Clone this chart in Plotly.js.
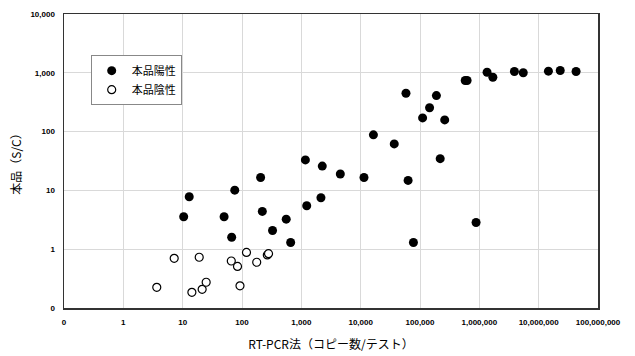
<!DOCTYPE html>
<html>
<head>
<meta charset="utf-8">
<script src="https://cdn.plot.ly/plotly-3.0.1.min.js"></script>
<style>html,body{margin:0;padding:0;background:#fff;}#chart{width:635px;height:356px;}</style>
</head>
<body>
<div id="chart"></div>
<script>
// 本品陽性 (positive)
const posX = [10.4, 12.9, 49.9, 67, 75.5, 206, 220, 327, 556, 661, 1170, 1233,
  2140, 2254, 4540, 11370, 16400, 36800, 58000, 63000, 77500, 110600, 145000, 189000,
  219000, 261000, 578000, 622000, 881000, 1350000, 1690000, 3900000, 5500000,
  14600000, 23100000, 42700000];
const posY = [3.56, 7.8, 3.56, 1.6, 10.1, 16.6, 4.39, 2.08, 3.24, 1.3, 33, 5.49,
  7.5, 25.9, 19, 16.6, 88, 61.7, 449, 14.8, 1.3, 171, 254, 410,
  34.7, 158, 740, 740, 2.85, 1023, 841, 1050, 1000,
  1065, 1095, 1050];
// 本品陰性 (negative)
const negX = [3.66, 7.2, 14.3, 19, 21.3, 24.9, 66, 84, 92.5, 119, 177, 267, 280];
const negY = [0.225, 0.70, 0.185, 0.73, 0.208, 0.274, 0.63, 0.51, 0.238, 0.88, 0.60, 0.80, 0.84];

const xTickVals = [0.1, 1, 10, 100, 1000, 10000, 100000, 1000000, 10000000, 100000000];
const xTickText = ["0", "1", "10", "100", "1,000", "10,000", "100,000", "1,000,000", "10,000,000", "100,000,000"];
const yTickVals = [0.1, 1, 10, 100, 1000, 10000];
const yTickText = ["0", "1", "10", "100", "1,000", "10,000"];

const jp = '"Noto Sans CJK JP", sans-serif';
const tickFont = {family: '"Liberation Sans", Arial, sans-serif', size: 8, color: '#000', weight: 'bold'};

const traces = [
  {x: posX, y: posY, type: 'scatter', mode: 'markers', name: '本品陽性',
   marker: {color: '#000', size: 9, symbol: 'circle'}},
  {x: negX, y: negY, type: 'scatter', mode: 'markers', name: '本品陰性',
   marker: {color: '#fff', size: 8, symbol: 'circle', line: {color: '#000', width: 1.2}}}
];

const layout = {
  width: 635, height: 356,
  margin: {l: 64, r: 37, t: 14, b: 48},
  paper_bgcolor: '#fff', plot_bgcolor: '#fff',
  showlegend: true,
  legend: {x: 0.05, y: 0.86, xanchor: 'left', yanchor: 'top',
    bgcolor: '#fff', bordercolor: '#888', borderwidth: 1,
    font: {family: jp, size: 11, color: '#000'}, itemwidth: 30,
    tracegroupgap: 0},
  xaxis: {type: 'log', range: [-1, 8], tickmode: 'array', tickvals: xTickVals, ticktext: xTickText,
    showgrid: true, gridcolor: '#d9d9d9', gridwidth: 1,
    showline: true, linecolor: '#333', linewidth: 1.5, mirror: true,
    ticks: '', zeroline: false, ticklabelstandoff: 6,
    tickfont: tickFont,
    title: {text: 'RT-PCR法（コピー数/テスト）', font: {family: jp, size: 12, color: '#000'}, standoff: 14}},
  yaxis: {type: 'log', range: [-1, 4], tickmode: 'array', tickvals: yTickVals, ticktext: yTickText,
    showgrid: true, gridcolor: '#d9d9d9', gridwidth: 1,
    showline: true, linecolor: '#333', linewidth: 1.5, mirror: true,
    ticks: '', zeroline: false, ticklabelstandoff: 6,
    tickfont: tickFont,
    title: {text: '本品（S/C）', font: {family: jp, size: 12, color: '#000'}, standoff: 6}}
};

Plotly.newPlot('chart', traces, layout, {displayModeBar: false, staticPlot: true});
</script>
</body>
</html>
